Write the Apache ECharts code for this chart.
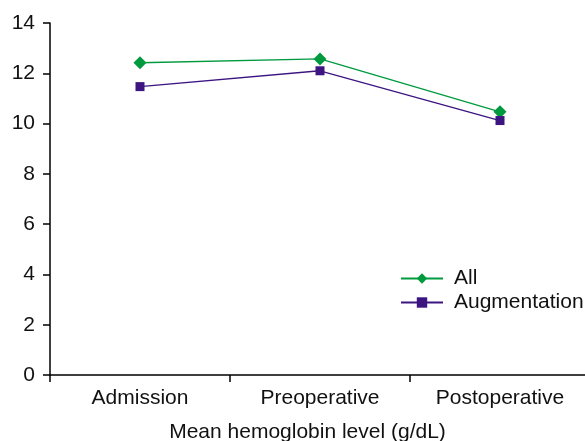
<!DOCTYPE html>
<html>
<head>
<meta charset="utf-8">
<script src="https://cdn.jsdelivr.net/npm/echarts@6/dist/echarts.min.js"></script>
<style>
  html, body { margin: 0; padding: 0; background: #fff; }
  #chart { width: 585px; height: 441px; }
</style>
</head>
<body>
<div id="chart"></div>
<script>
const categories = ["Admission", "Preoperative", "Postoperative"];
const allValues = [12.42, 12.57, 10.47];
const augmentationValues = [11.47, 12.1, 10.12];
const yTicks = { min: 0, max: 14, interval: 2 };

const FONT = "Liberation Sans, Arial, sans-serif";
const TEXT_COLOR = "#111";

const chart = echarts.init(document.getElementById("chart"));

const option = {
  animation: false,
  backgroundColor: "#fff",
  grid: {
    left: 50,
    top: 23,
    width: 540,
    height: 352,
    outerBoundsMode: "none",
    containLabel: false,
  },
  legend: {
    orient: "vertical",
    left: 400,
    top: 268,
    padding: 0,
    itemWidth: 42,
    itemHeight: 13,
    itemGap: 3,
    textStyle: { color: TEXT_COLOR, fontSize: 21, fontFamily: FONT, padding: [0, 0, 0, 6] },
    data: ["All", "Augmentation"],
  },
  xAxis: {
    type: "category",
    data: categories,
    boundaryGap: true,
    name: "Mean hemoglobin level (g/dL)",
    nameLocation: "middle",
    nameGap: 47,
    // title sits a bit left of the plot centre in the original
    nameTextStyle: { color: TEXT_COLOR, fontSize: 21, fontFamily: FONT, padding: [0, 25, 0, 0] },
    axisLine: { show: true, lineStyle: { color: "#000", width: 1.5 } },
    axisTick: { show: true, length: 7, lineStyle: { color: "#000", width: 1.5 } },
    axisLabel: { color: TEXT_COLOR, fontSize: 21, fontFamily: FONT, margin: 13 },
    splitLine: { show: false },
  },
  yAxis: {
    type: "value",
    min: yTicks.min,
    max: yTicks.max,
    interval: yTicks.interval,
    axisLine: { show: true, lineStyle: { color: "#000", width: 1.5 } },
    axisTick: { show: true, length: 7, lineStyle: { color: "#000", width: 1.5 } },
    axisLabel: { color: TEXT_COLOR, fontSize: 21, fontFamily: FONT, margin: 15 },
    splitLine: { show: false },
  },
  series: [
    {
      name: "All",
      type: "line",
      data: allValues,
      symbol: "diamond",
      symbolSize: 13,
      lineStyle: { color: "#009a3e", width: 1.3 },
      itemStyle: { color: "#009a3e" },
    },
    {
      name: "Augmentation",
      type: "line",
      data: augmentationValues,
      symbol: "rect",
      symbolSize: 9,
      lineStyle: { color: "#3d1581", width: 1.3 },
      itemStyle: { color: "#3d1581" },
    },
  ],
};

chart.setOption(option);
</script>
</body>
</html>
